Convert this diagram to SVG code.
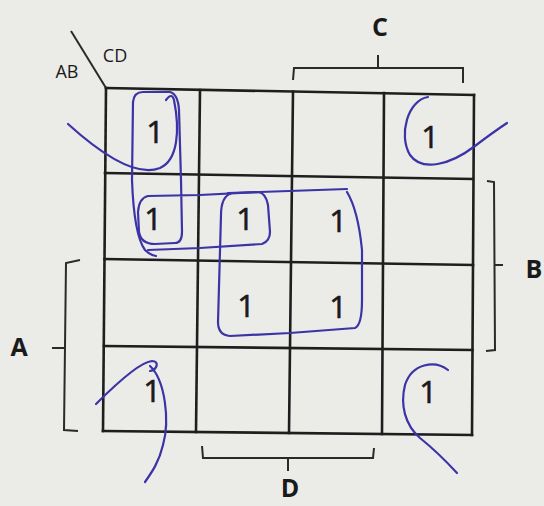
<svg xmlns="http://www.w3.org/2000/svg" width="544" height="506" viewBox="0 0 544 506">
<style>
.g{stroke:#1e1e1e;stroke-width:2.6;fill:none;stroke-linecap:square}
.br{stroke:#2a2a2a;stroke-width:2;fill:none}
.ink{stroke:#3b33a6;stroke-width:2.2;fill:none;stroke-linecap:round;stroke-linejoin:round}
.one{font-family:"Open Sans","Liberation Sans",sans-serif;font-size:31px;fill:#1a1a1a;stroke:#1a1a1a;stroke-width:0.6;text-anchor:middle}
.lab{font-family:"Open Sans","Liberation Sans",sans-serif;font-weight:bold;font-size:25px;fill:#1a1a1a;text-anchor:middle}
.sm{font-family:"Open Sans","Liberation Sans",sans-serif;font-size:18px;fill:#1a1a1a;text-anchor:middle}
</style>
<rect width="544" height="506" fill="#ebebe8"/>
<g id="grid">
<line class="g" x1="106" y1="88" x2="474" y2="95"/>
<line class="g" x1="105" y1="173" x2="473" y2="179"/>
<line class="g" x1="104.5" y1="259" x2="473" y2="265"/>
<line class="g" x1="104" y1="346" x2="472.5" y2="350"/>
<line class="g" x1="103" y1="431" x2="472" y2="435"/>
<line class="g" x1="106" y1="88" x2="103" y2="431"/>
<line class="g" x1="200" y1="90" x2="196" y2="432"/>
<line class="g" x1="293" y1="91.5" x2="289" y2="433"/>
<line class="g" x1="384" y1="93" x2="382" y2="434"/>
<line class="g" x1="474" y1="95" x2="472" y2="435"/>
<line class="br" x1="71" y1="31" x2="106" y2="88"/>
</g>
<g id="labels">
<text class="sm" x="67" y="78">AB</text>
<text class="sm" x="115" y="62">CD</text>
<text class="lab" x="380" y="36">C</text>
<text class="lab" x="534" y="278">B</text>
<text class="lab" x="19" y="356">A</text>
<text class="lab" x="290" y="497">D</text>
</g>
<g id="brackets">
<path class="br" d="M293,80 L294,68 L463,68 L463,83 M378,55 L378,68"/>
<path class="br" d="M487,181 L494,182 L495,350 L486,351 M495,265 L503,265"/>
<path class="br" d="M80,260 L66,263 L64,430 L78,431 M52,348 L64,348"/>
<path class="br" d="M202,446 L203,458 L373,458 L374,448 M288,458 L288,471"/>
</g>
<g id="cells">
<text class="one" x="155" y="143">1</text>
<text class="one" x="430" y="148">1</text>
<text class="one" x="153" y="230">1</text>
<text class="one" x="245" y="230">1</text>
<text class="one" x="338" y="232">1</text>
<text class="one" x="246" y="317">1</text>
<text class="one" x="338" y="318">1</text>
<text class="one" x="152" y="402">1</text>
<text class="one" x="428" y="403">1</text>
</g>
<g id="loops">
<path class="ink" d="M166,100 Q172,92 174,100 C180,130 178,160 160,168 C140,176 110,162 68,124"/>
<path class="ink" d="M428,97 C408,100 398,135 410,155 C422,172 450,165 475,146 Q492,133 507,123"/>
<path class="ink" d="M96,404 C115,385 140,362 152,361 C160,361 157,370 150,371 M150,366 C165,380 170,420 163,445 C159,462 152,472 145,482"/>
<path class="ink" d="M448,370 C435,360 412,363 405,385 C400,405 405,425 420,438 C435,450 445,460 457,473"/>
<path class="ink" d="M133,102 Q134,92 143,92 L170,92 Q178,94 179,110 L181,180 L182,232 Q182,243 175,243 L155,244 Q141,244 139,232 L138,212 Q139,198 148,196 L200,195 L260,192 L347,189"/>
<path class="ink" d="M133,102 L132,180 Q134,235 145,250 Q150,255 156,256"/>
<path class="ink" d="M148,250 L200,248 L262,244 Q270,241 270,232 L268,205 Q266,193 258,192 L228,193"/>
<path class="ink" d="M347,192 Q358,210 362,250 L362,300 Q362,325 355,328 L290,333 L230,336 Q218,335 218,322 L221,215 Q221,196 232,193"/>
</g>
</svg>
